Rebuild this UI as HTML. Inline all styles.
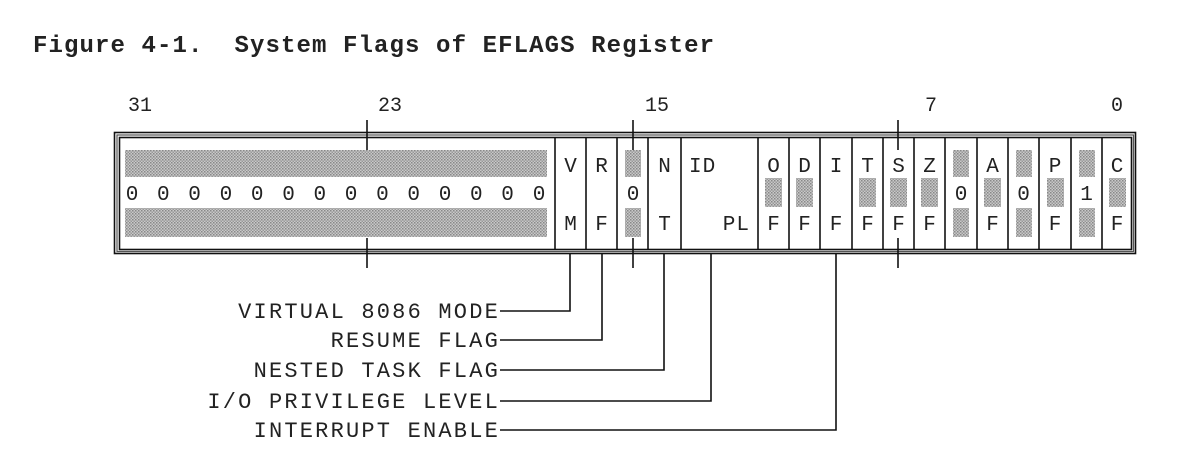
<!DOCTYPE html>
<html><head><meta charset="utf-8"><style>
html,body{margin:0;padding:0;background:#fff;}
svg{display:block;}
text{font-family:"Liberation Mono","DejaVu Sans Mono",monospace;fill:#222;}
</style></head><body>
<svg width="1184" height="464" viewBox="0 0 1184 464" xmlns="http://www.w3.org/2000/svg">
<defs>
<pattern id="dots" width="3" height="3" patternUnits="userSpaceOnUse">
<rect width="3" height="3" fill="#c9c9c9"/>
<rect x="0" y="0" width="1.5" height="1.5" fill="#888"/>
<rect x="1.5" y="1.5" width="1.5" height="1.5" fill="#999"/>
</pattern>
</defs>
<text x="33" y="52" font-size="24" font-weight="bold" letter-spacing="1.1" fill="#111">Figure 4-1.&#160; System Flags of EFLAGS Register</text>

<g font-size="20" text-anchor="middle">
<text x="140" y="111">31</text>
<text x="390" y="111">23</text>
<text x="657" y="111">15</text>
<text x="931" y="111">7</text>
<text x="1117" y="111">0</text>
</g>

<g fill="none" stroke="#111">
<rect x="114.5" y="132.5" width="1021" height="121" stroke-width="1.6"/>
<rect x="117" y="135" width="1016.5" height="116.5" stroke-width="1.2" stroke="#555"/>
<rect x="119.5" y="137.5" width="1012" height="112" stroke-width="1.6"/>
</g>

<rect x="125" y="150" width="422" height="27" fill="url(#dots)"/>
<rect x="125" y="208" width="422" height="29" fill="url(#dots)"/>
<g font-size="21" text-anchor="middle">
<text x="132" y="200">0</text><text x="163.3" y="200">0</text><text x="194.6" y="200">0</text><text x="225.9" y="200">0</text><text x="257.2" y="200">0</text><text x="288.5" y="200">0</text><text x="319.8" y="200">0</text><text x="351.1" y="200">0</text><text x="382.4" y="200">0</text><text x="413.7" y="200">0</text><text x="445" y="200">0</text><text x="476.3" y="200">0</text><text x="507.6" y="200">0</text><text x="539" y="200">0</text>
</g>

<g stroke="#111" stroke-width="1.6">
<line x1="555" y1="137" x2="555" y2="250"/>
<line x1="586" y1="137" x2="586" y2="250"/>
<line x1="617" y1="137" x2="617" y2="250"/>
<line x1="648" y1="137" x2="648" y2="250"/>
<line x1="681" y1="137" x2="681" y2="250"/>
<line x1="758" y1="137" x2="758" y2="250"/>
<line x1="789" y1="137" x2="789" y2="250"/>
<line x1="820" y1="137" x2="820" y2="250"/>
<line x1="852" y1="137" x2="852" y2="250"/>
<line x1="883" y1="137" x2="883" y2="250"/>
<line x1="914" y1="137" x2="914" y2="250"/>
<line x1="945" y1="137" x2="945" y2="250"/>
<line x1="977" y1="137" x2="977" y2="250"/>
<line x1="1008" y1="137" x2="1008" y2="250"/>
<line x1="1039" y1="137" x2="1039" y2="250"/>
<line x1="1071" y1="137" x2="1071" y2="250"/>
<line x1="1102" y1="137" x2="1102" y2="250"/>
<line x1="367" y1="120" x2="367" y2="150"/>
<line x1="367" y1="238" x2="367" y2="268"/>
<line x1="633" y1="238" x2="633" y2="268"/>
<line x1="898" y1="120" x2="898" y2="150"/>
<line x1="898" y1="238" x2="898" y2="268"/>
</g>

<g fill="url(#dots)">
<rect x="625" y="150" width="16" height="27"/><rect x="625" y="208" width="16" height="29"/>
<rect x="953" y="150" width="16" height="27"/><rect x="953" y="208" width="16" height="29"/>
<rect x="1016" y="150" width="16" height="27"/><rect x="1016" y="208" width="16" height="29"/>
<rect x="1079" y="150" width="16" height="27"/><rect x="1079" y="208" width="16" height="29"/>
<rect x="765" y="178" width="17" height="29"/>
<rect x="796" y="178" width="17" height="29"/>
<rect x="859" y="178" width="17" height="29"/>
<rect x="890" y="178" width="17" height="29"/>
<rect x="921" y="178" width="17" height="29"/>
<rect x="984" y="178" width="17" height="29"/>
<rect x="1047" y="178" width="17" height="29"/>
<rect x="1109" y="178" width="17" height="29"/>
</g>
<line x1="633" y1="120" x2="633" y2="150" stroke="#111" stroke-width="1.6"/>

<g font-size="21" text-anchor="middle">
<text x="570.5" y="172">V</text><text x="570.5" y="230">M</text>
<text x="601.5" y="172">R</text><text x="601.5" y="230">F</text>
<text x="633" y="200">0</text>
<text x="664.5" y="172">N</text><text x="664.5" y="230">T</text>
<text x="773.5" y="172">O</text><text x="773.5" y="230">F</text>
<text x="804.5" y="172">D</text><text x="804.5" y="230">F</text>
<text x="836" y="172">I</text><text x="836" y="230">F</text>
<text x="867.5" y="172">T</text><text x="867.5" y="230">F</text>
<text x="898.5" y="172">S</text><text x="898.5" y="230">F</text>
<text x="929.5" y="172">Z</text><text x="929.5" y="230">F</text>
<text x="961" y="200">0</text>
<text x="992.5" y="172">A</text><text x="992.5" y="230">F</text>
<text x="1023.5" y="200">0</text>
<text x="1055" y="172">P</text><text x="1055" y="230">F</text>
<text x="1086.5" y="200">1</text>
<text x="1117" y="172">C</text><text x="1117" y="230">F</text>
</g>
<text x="689" y="172" font-size="21" letter-spacing="1">ID</text>
<text x="750" y="230" font-size="21" text-anchor="end" letter-spacing="1">PL</text>

<g fill="none" stroke="#111" stroke-width="1.6">
<polyline points="500,311 570,311 570,254"/>
<polyline points="500,340 602,340 602,254"/>
<polyline points="500,370 664,370 664,254"/>
<polyline points="500,401 711,401 711,254"/>
<polyline points="500,430 836,430 836,254"/>
</g>
<g font-size="22" text-anchor="end" letter-spacing="2.2">
<text x="500" y="318">VIRTUAL 8086 MODE</text>
<text x="500" y="347">RESUME FLAG</text>
<text x="500" y="377">NESTED TASK FLAG</text>
<text x="500" y="408">I/O PRIVILEGE LEVEL</text>
<text x="500" y="437">INTERRUPT ENABLE</text>
</g>
</svg>
</body></html>
